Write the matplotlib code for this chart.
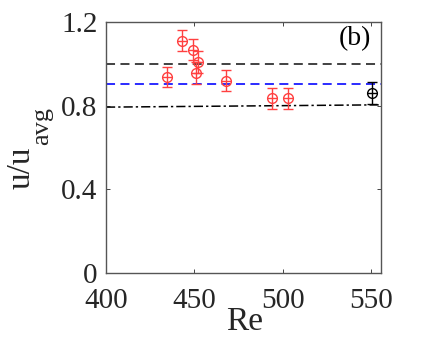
import matplotlib
matplotlib.use("Agg")
import matplotlib.pyplot as plt
import numpy as np

plt.rcParams['font.family'] = ['Liberation Serif', 'DejaVu Serif']
plt.rcParams['mathtext.fontset'] = 'stix'

re_red = [434.7, 442.7, 449.0, 451.9, 451.0, 467.9, 493.9, 502.9]
u_red = [0.939, 1.111, 1.067, 1.008, 0.955, 0.920, 0.836, 0.836]
err_red = [0.048, 0.050, 0.050, 0.052, 0.052, 0.050, 0.050, 0.050]
re_black = [550.4]
u_black = [0.860]
err_black = [0.052]

line_black_y = 1.0
line_blue_y = 0.905
dashdot_x = [400, 555]
dashdot_y = [0.793, 0.804]

xticks = [400, 450, 500, 550]
yticks = [0, 0.4, 0.8, 1.2]

W, H = 422, 355
fig = plt.figure(figsize=(W/100, H/100), dpi=100)
ax = fig.add_axes([106/W, 1 - 273/H, (381-106)/W, (273-22)/H])

ax.axhline(line_black_y, color='#333333', ls=(0, (5, 3)), lw=1.3)
ax.axhline(line_blue_y, color='#1a1aff', ls=(0, (5, 3)), lw=1.3)
ax.plot(dashdot_x, dashdot_y, color='black', ls=(0, (6, 2, 1.5, 2)), lw=1.1)

red = '#ff4040'
ax.errorbar(re_red, u_red, yerr=err_red, fmt='o', mfc='none', mec=red, ms=7,
            ecolor=red, elinewidth=1.0, capsize=3.3, capthick=1.0, mew=1.0)
ax.plot(re_red, u_red, ls='none', marker='_', ms=7, mec=red, mew=1.0)
ax.errorbar(re_black, u_black, yerr=err_black, fmt='o', mfc='none', mec='black', ms=7,
            ecolor='black', elinewidth=1.0, capsize=3.3, capthick=1.0, mew=1.0)
ax.plot(re_black, u_black, ls='none', marker='_', ms=7, mec='black', mew=1.0)

ax.set_xlim(400, 555.4)
ax.set_ylim(0, 1.2)
ax.set_xticks(xticks)
ax.set_yticks(yticks)
ax.set_xticklabels([str(t) for t in xticks])
ax.set_yticklabels(['0', '0.4', '0.8', '1.2'])
ax.tick_params(direction='in', top=True, right=True, length=3, width=0.6,
               labelsize=21, colors='#262626')
ax.tick_params(axis='x', pad=11)
ax.tick_params(axis='y', pad=6)
for s in ax.spines.values():
    s.set_color('#555555')
    s.set_linewidth(1.0)

ax.set_xlabel('Re', fontsize=24, color='#262626')
ax.xaxis.set_label_coords((245-106)/(381-106), -(322-273)/(273-22))
ax.xaxis.label.set_va('center')

# y label: "u/u" with lowered subscript "avg"
fig.text(6/W, 1 - 168/H, 'u/u', rotation=90, ha='left', va='center',
         fontsize=24, color='#262626')
fig.text(31/W, 1 - 126/H, 'avg', rotation=90, ha='left', va='center',
         fontsize=19, color='#262626')

ax.text(0.965, 0.985, '(b)', transform=ax.transAxes, ha='right', va='top',
        fontsize=20, color='black')

fig.savefig('out.png', dpi=100)
